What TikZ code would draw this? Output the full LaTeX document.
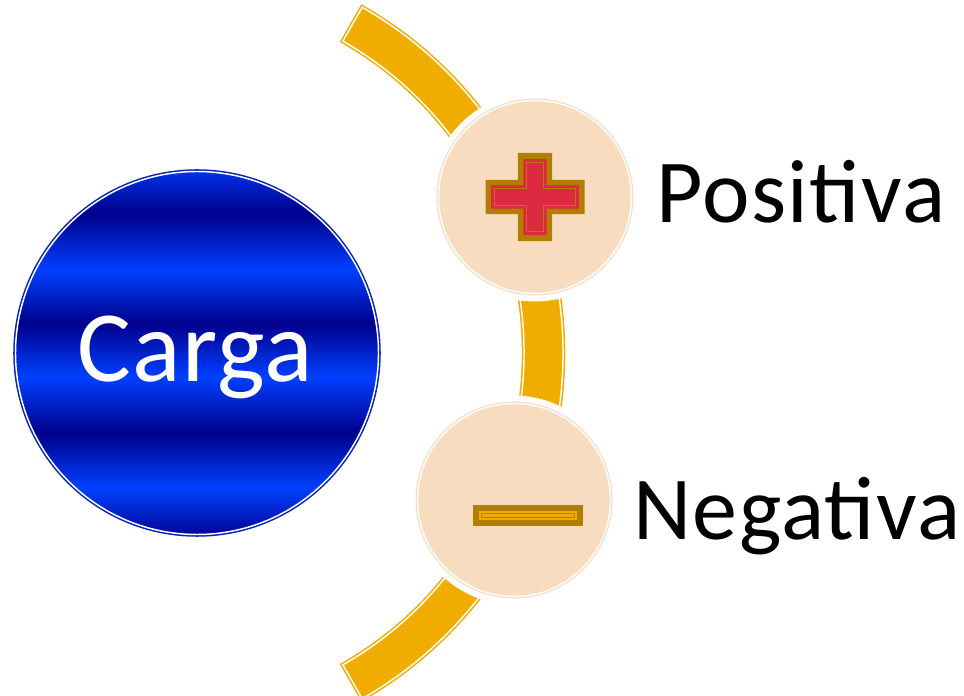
\documentclass[tikz,border=0pt]{standalone}
\usepackage{fontspec}
\setmainfont{Carlito}
\usetikzlibrary{calc}

\definecolor{bandorange}{HTML}{F0AD00}
\definecolor{bubblepeach}{HTML}{F8DCC0}
\definecolor{signgold}{HTML}{B37D00}
\definecolor{signred}{HTML}{DC2840}
\definecolor{cargadark}{HTML}{00008C}
\definecolor{cargalight}{HTML}{0040FF}
\definecolor{cargaedge}{HTML}{0A24B4}

\pgfdeclareverticalshading{cargastripes}{100bp}{color(0bp)=(cargadark); color(24.2bp)=(cargadark);
  color(31.5bp)=(cargalight); color(39bp)=(cargadark); color(46.7bp)=(cargalight); color(54.1bp)=(cargadark);
  color(61.4bp)=(cargalight); color(69.3bp)=(cargadark); color(76.6bp)=(cargalight); color(100bp)=(cargalight)}

\newcommand{\crossoutline}[3]{(-#1,-#3) -- (-#3,-#3) -- (-#3,-#2) -- (#3,-#2) -- (#3,-#3) -- (#1,-#3)
  -- (#1,#3) -- (#3,#3) -- (#3,#2) -- (-#3,#2) -- (-#3,#3) -- (-#1,#3) -- cycle}

\begin{document}
\begin{tikzpicture}[x=0.75pt,y=0.75pt,
	band/.style={fill=bandorange,draw=white,line width=1.1pt,preaction={draw=bandorange,line width=3.4pt}},
	bubble/.style={circle,inner sep=0pt,minimum size=144.75pt,fill=bubblepeach,draw=white,line width=1.1pt,
		preaction={draw=white,line width=12pt},preaction={draw=bubblepeach,line width=3pt}},
	charge/.style={circle,inner sep=0pt,minimum size=272.25pt,shading=cargastripes,draw=white,line width=1.1pt,
		preaction={draw=cargaedge,line width=3.4pt}},
	signtext/.style={anchor=base west,inner sep=0pt,font=\fontsize{67.5}{70}\selectfont\addfontfeatures{LetterSpace=1.6}},
	cargatext/.style={anchor=base,inner sep=0pt,text=white,font=\fontsize{75.75}{80}\selectfont\addfontfeatures{LetterSpace=1.2}}]
	\useasboundingbox (0,0) rectangle (964,696);
	\coordinate (arccentre) at (165,343);
	\path[band] ($(arccentre)+(60.3:398)$) arc[start angle=60.3,end angle=-60.3,radius=398]
		-- ($(arccentre)+(-60.3:359)$) arc[start angle=-60.3,end angle=60.3,radius=359] -- cycle;
	\node[bubble] (pos) at (535,499) {};
	\node[bubble] (neg) at (514,196) {};
	\node[charge] (carga) at (197,343) {};
	\node[cargatext] (cargalabel) at (195,314) {Carga};
	\begin{scope}[shift={(pos.center)}]
		\fill[signgold] \crossoutline{49.5}{44.2}{17.2};
		\fill[signred] \crossoutline{43.8}{37.8}{11.6};
		\draw[signgold,line width=0.7pt] \crossoutline{40.8}{34.8}{8.6};
	\end{scope}
	\begin{scope}[shift={($(neg.center)+(14,-15.5)$)}]
		\fill[signgold] (-55,-10.5) rectangle (55,10.5);
		\fill[bandorange] (-48.8,-4.5) rectangle (48.8,4.5);
		\draw[signgold,line width=0.6pt] (-46.5,-2) rectangle (46.5,2);
	\end{scope}
	\node[signtext] (postext) at (656,473) {Positiva};
	\node[signtext] (negtext) at (633,156) {Negativa};
\end{tikzpicture}
\end{document}
